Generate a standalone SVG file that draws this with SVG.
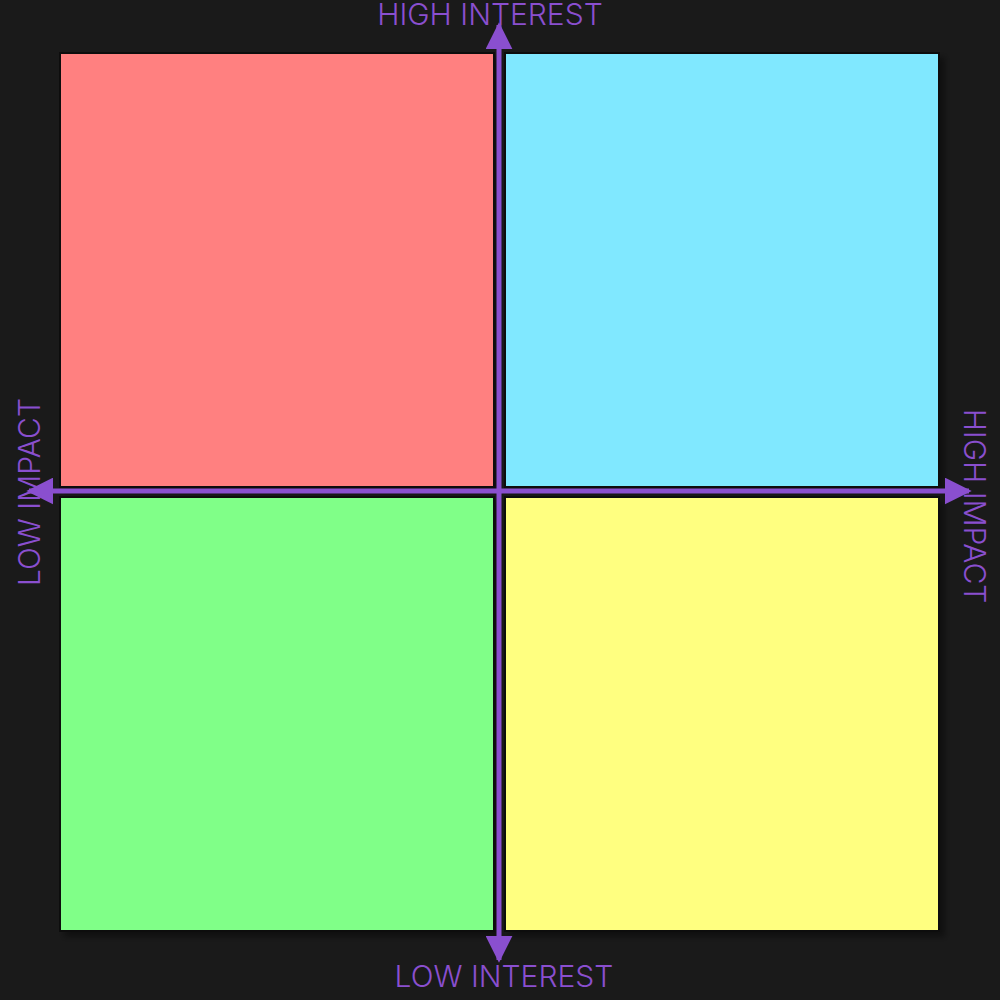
<svg xmlns="http://www.w3.org/2000/svg" width="1000" height="1000" viewBox="0 0 1000 1000">
<defs>
<style>
.q{stroke:#111;stroke-width:2}
.lbl{font-family:Inter,"Noto Sans",sans-serif;font-size:30px;font-weight:300;fill:#8a4fcf;text-anchor:middle}
.ax{stroke:#8a4fcf;stroke-width:5;fill:none}
</style>
<marker id="ah" viewBox="0 0 10 10" refX="9" refY="5" markerWidth="5.4" markerHeight="5.4" markerUnits="strokeWidth" orient="auto">
<path d="M0,0 L10,5 L0,10 z" fill="#8a4fcf"/>
</marker>
<filter id="sh" x="-5%" y="-5%" width="115%" height="115%">
<feDropShadow dx="5" dy="5" stdDeviation="3" flood-color="#000" flood-opacity="0.4"/>
</filter>
</defs>
<rect width="1000" height="1000" fill="#1a1a1a"/>
<g id="q-high-interest-low-impact" filter="url(#sh)"><rect class="q" x="60" y="53" width="434" height="434" fill="#ff8080"/></g>
<g id="q-high-interest-high-impact" filter="url(#sh)"><rect class="q" x="505" y="53" width="434" height="434" fill="#80e8ff"/></g>
<g id="q-low-interest-low-impact" filter="url(#sh)"><rect class="q" x="60" y="497" width="434" height="434" fill="#80ff88"/></g>
<g id="q-low-interest-high-impact" filter="url(#sh)"><rect class="q" x="505" y="497" width="434" height="434" fill="#ffff80"/></g>
<g id="connectors">
<line class="ax" x1="499" y1="491" x2="499" y2="25" marker-end="url(#ah)"/>
<line class="ax" x1="499" y1="491" x2="499" y2="960" marker-end="url(#ah)"/>
<line class="ax" x1="499" y1="491" x2="29" y2="491" marker-end="url(#ah)"/>
<line class="ax" x1="499" y1="491" x2="969" y2="491" marker-end="url(#ah)"/>
</g>
<g id="labels">
<text class="lbl" x="490" y="25">HIGH INTEREST</text>
<text class="lbl" x="504" y="987">LOW INTEREST</text>
<text class="lbl" transform="translate(40,492) rotate(-90)">LOW IMPACT</text>
<text class="lbl" transform="translate(964,506) rotate(90)">HIGH IMPACT</text>
</g>
</svg>
